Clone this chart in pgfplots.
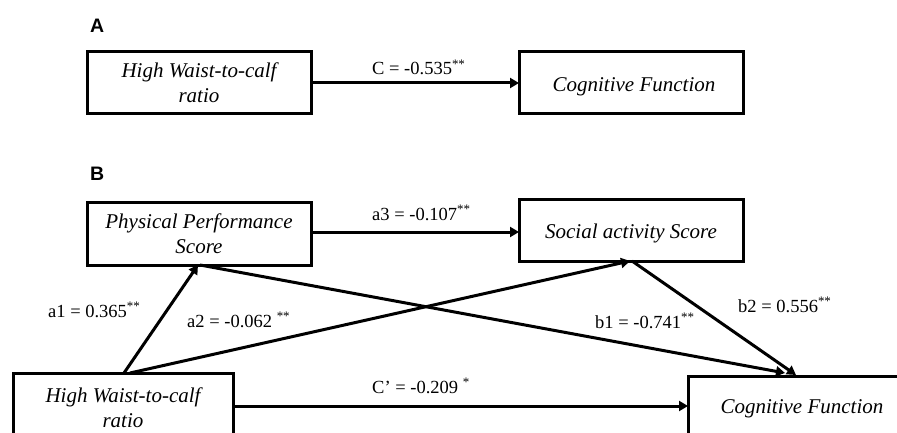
\documentclass[border=0pt]{standalone}
\usepackage{pgfplots}
\pgfplotsset{compat=1.18}
\usetikzlibrary{arrows.meta}
\usepackage{fontspec}
\setmainfont{Liberation Serif}
\setsansfont{Liberation Sans}
\tikzset{
  bt/.style={anchor=base, inner sep=0pt, font=\fontsize{21}{25}\selectfont\itshape},
  lb/.style={anchor=base west, inner sep=0pt, font=\fontsize{18.5}{22}\selectfont},
  pl/.style={anchor=base west, inner sep=0pt, font=\fontsize{19.5}{22}\selectfont\sffamily\bfseries},
}
\pgfplotsset{
  boxstyle/.style={black, line width=3pt, line join=miter},
  arr/.style={black, line width=3pt, -{Triangle[length=9pt,width=10pt]}},
}
\begin{document}
\begin{tikzpicture}
\begin{axis}[
  width=897pt, height=433pt, scale only axis,
  xmin=0, xmax=897, ymin=0, ymax=433, y dir=reverse,
  hide axis, clip=true,
]
\addplot[draw=none, forget plot] coordinates {(0,0) (897,433)};
% boxes
\addplot[boxstyle] coordinates {(87,52) (311,52) (311,114) (87,114) (87,52)} -- cycle;
\addplot[boxstyle] coordinates {(519,52) (743,52) (743,114) (519,114) (519,52)} -- cycle;
\addplot[boxstyle] coordinates {(87,202) (311,202) (311,265) (87,265) (87,202)} -- cycle;
\addplot[boxstyle] coordinates {(519,199) (743,199) (743,261) (519,261) (519,199)} -- cycle;
\addplot[boxstyle] coordinates {(13,373) (233,373) (233,450) (13,450) (13,373)} -- cycle;
\addplot[boxstyle] coordinates {(688,376) (910,376) (910,450) (688,450) (688,376)} -- cycle;
% arrows
\addplot[arr] coordinates {(311,83) (519,83)};
\addplot[arr] coordinates {(311,232) (519,232)};
\addplot[arr] coordinates {(233,406) (688,406)};
\addplot[arr] coordinates {(124,373) (198,265)};
\addplot[arr] coordinates {(130,373) (630,261)};
\addplot[arr] coordinates {(200,265) (785,373)};
\addplot[arr] coordinates {(632,261) (796,375)};
% panel letters
\node[pl] at (axis cs:90,33) {A};
\node[pl] at (axis cs:90,180) {B};
% box texts
\node[bt] at (axis cs:199,78) {High Waist-to-calf};
\node[bt] at (axis cs:199,103) {ratio};
\node[bt] at (axis cs:634,92) {Cognitive Function};
\node[bt] at (axis cs:199,228) {Physical Performance};
\node[bt] at (axis cs:199,253) {Score};
\node[bt] at (axis cs:631,238) {Social activity Score};
\node[bt] at (axis cs:123,402) {High Waist-to-calf};
\node[bt] at (axis cs:123,427) {ratio};
\node[bt] at (axis cs:802,413) {Cognitive Function};
% path labels
\node[lb] at (axis cs:372,75) {C = -0.535\textsuperscript{**}};
\node[lb] at (axis cs:372,220) {a3 = -0.107\textsuperscript{**}};
\node[lb] at (axis cs:372,393) {C’ = -0.209 \textsuperscript{*}};
\node[lb] at (axis cs:48,317) {a1 = 0.365\textsuperscript{**}};
\node[lb] at (axis cs:187,327) {a2 = -0.062 \textsuperscript{**}};
\node[lb] at (axis cs:595,328) {b1 = -0.741\textsuperscript{**}};
\node[lb] at (axis cs:738,312) {b2 = 0.556\textsuperscript{**}};
\end{axis}
\end{tikzpicture}
\end{document}
